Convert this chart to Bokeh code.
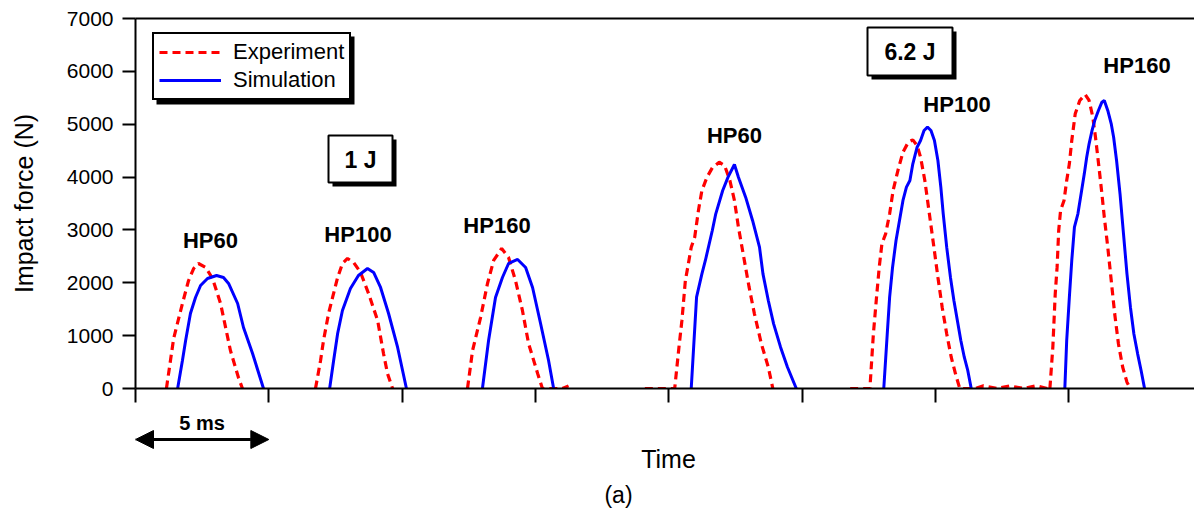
from bokeh.plotting import figure
from bokeh.layouts import column
from bokeh.models import (Range1d, LinearAxis, FixedTicker, Label, Legend, LegendItem,
                          BoxAnnotation, Arrow, NormalHead, CustomLabelingPolicy)
from bokeh.embed import file_html
from bokeh.resources import INLINE

# ---------------- data (time in ms, force in N) ----------------
# Experiment (red dashed), one list per impact
exp_t_hp60_1j = [1.16, 1.43, 1.76, 1.99, 2.18, 2.36, 2.63, 2.89, 3.19, 3.56, 3.86, 4.01]
exp_f_hp60_1j = [0, 946, 1608, 2043, 2270, 2365, 2289, 2081, 1608, 719, 208, 0]
exp_t_hp100_1j = [6.75, 6.94, 7.05, 7.24, 7.39, 7.58, 7.76, 7.95, 8.18, 8.44, 8.74, 9.08, 9.30, 9.45, 9.64]
exp_f_hp100_1j = [0, 530, 908, 1419, 1722, 2100, 2365, 2460, 2384, 2195, 1797, 1287, 662, 284, 0]
exp_t_hp160_1j = [12.45, 12.64, 12.94, 13.20, 13.43, 13.73, 13.99, 14.25, 14.51, 14.74, 15.08, 15.26, 16.0, 16.24]
exp_f_hp160_1j = [0, 719, 1343, 1987, 2422, 2649, 2479, 2043, 1476, 851, 284, 0, 0, 50]
exp_t_hp60_6j = [19.10, 20.22, 20.38, 20.49, 20.62, 20.71, 20.84, 20.97, 21.11, 21.24, 21.43, 21.63, 21.89,
                 22.09, 22.29, 22.46, 22.61, 22.81, 23.01, 23.21, 23.47, 23.73, 23.90]
exp_f_hp60_6j = [0, 0, 782, 1287, 2043, 2295, 2674, 2863, 3368, 3746, 3998, 4175, 4282,
                 4219, 3935, 3557, 3052, 2484, 1917, 1413, 846, 403, 0]
exp_t_hp100_6j = [26.80, 27.54, 27.67, 27.80, 27.89, 27.99, 28.13, 28.28, 28.41, 28.59, 28.78, 28.98, 29.15,
                  29.31, 29.44, 29.60, 29.77, 29.94, 30.09, 30.25, 30.42, 30.59, 30.75, 30.91,
                  31.50, 31.80, 32.30, 32.78, 33.30, 33.77, 34.20]
exp_f_hp100_6j = [0, 0, 1030, 1792, 2295, 2737, 2926, 3305, 3746, 4124, 4471, 4660, 4704,
                  4597, 4376, 3935, 3305, 2674, 2106, 1538, 1035, 592, 278, 0,
                  0, 50, 0, 50, 0, 50, 0]
exp_t_hp160_6j = [34.29, 34.40, 34.49, 34.56, 34.62, 34.69, 34.82, 34.92, 35.02, 35.11, 35.24, 35.41, 35.61,
                  35.76, 35.90, 36.00, 36.13, 36.24, 36.33, 36.46, 36.59, 36.72, 36.86, 37.02, 37.18, 37.31]
exp_f_hp160_6j = [0, 782, 1792, 2295, 2989, 3368, 3557, 3935, 4251, 4692, 5197, 5449, 5562,
                  5449, 5133, 4754, 4187, 3683, 3241, 2674, 2043, 1413, 846, 403, 120, 0]

# Simulation (blue solid), one list per impact
sim_t_hp60_1j = [1.58, 1.76, 1.88, 2.06, 2.25, 2.44, 2.70, 3.04, 3.30, 3.49, 3.83, 4.05, 4.39, 4.80]
sim_f_hp60_1j = [0, 530, 908, 1419, 1722, 1949, 2081, 2138, 2100, 1987, 1608, 1154, 662, 0]
sim_t_hp100_1j = [7.28, 7.43, 7.58, 7.76, 8.06, 8.36, 8.70, 8.93, 9.19, 9.49, 9.83, 10.16]
sim_f_hp100_1j = [0, 530, 1041, 1476, 1892, 2138, 2270, 2195, 1911, 1419, 776, 0]
sim_t_hp160_1j = [13.01, 13.24, 13.50, 13.76, 13.99, 14.33, 14.63, 14.89, 15.19, 15.49, 15.68]
sim_f_hp160_1j = [0, 908, 1722, 2100, 2365, 2441, 2289, 1911, 1230, 530, 0]
sim_t_hp60_6j = [20.84, 21.04, 21.24, 21.37, 21.63, 21.76, 22.02, 22.22, 22.46, 22.61, 22.88, 23.14,
                 23.40, 23.53, 23.73, 23.93, 24.19, 24.45, 24.78]
sim_f_hp60_6j = [0, 1728, 2169, 2422, 2989, 3305, 3746, 3998, 4238, 3998, 3620, 3179,
                 2674, 2169, 1665, 1224, 782, 403, 0]
sim_t_hp100_6j = [28.06, 28.19, 28.28, 28.39, 28.52, 28.65, 28.78, 28.91, 29.04, 29.15, 29.31, 29.44, 29.57,
                  29.70, 29.83, 29.96, 30.09, 30.20, 30.29, 30.42, 30.56, 30.69, 30.82, 30.95, 31.08, 31.21, 31.34]
sim_f_hp100_6j = [0, 1030, 1728, 2295, 2800, 3179, 3557, 3809, 3935, 4251, 4565, 4692, 4881,
                  4944, 4881, 4692, 4314, 3809, 3305, 2674, 2106, 1665, 1287, 908, 592, 341, 0]
sim_t_hp160_6j = [34.85, 34.92, 35.02, 35.11, 35.21, 35.34, 35.48, 35.58, 35.67, 35.76, 35.87, 35.97, 36.11,
                  36.24, 36.33, 36.46, 36.59, 36.68, 36.79, 36.92, 37.05, 37.18, 37.31, 37.44, 37.58, 37.71, 37.84]
sim_f_hp160_6j = [0, 908, 1728, 2422, 3052, 3305, 3746, 4061, 4376, 4629, 4881, 5070, 5260,
                  5417, 5449, 5260, 5008, 4754, 4314, 3683, 2926, 2169, 1538, 1030, 656, 341, 0]

y_ticks = [0, 1000, 2000, 3000, 4000, 5000, 6000, 7000]
x_ticks = [0, 5, 10, 15, 20, 25, 30, 35]
pulse_labels = ["HP60", "HP100", "HP160", "HP60", "HP100", "HP160"]
energy_labels = ["1 J", "6.2 J"]
scale_label = "5 ms"

exp_t = [exp_t_hp60_1j, exp_t_hp100_1j, exp_t_hp160_1j, exp_t_hp60_6j, exp_t_hp100_6j, exp_t_hp160_6j]
exp_f = [exp_f_hp60_1j, exp_f_hp100_1j, exp_f_hp160_1j, exp_f_hp60_6j, exp_f_hp100_6j, exp_f_hp160_6j]
sim_t = [sim_t_hp60_1j, sim_t_hp100_1j, sim_t_hp160_1j, sim_t_hp60_6j, sim_t_hp100_6j, sim_t_hp160_6j]
sim_f = [sim_f_hp60_1j, sim_f_hp100_1j, sim_f_hp160_1j, sim_f_hp60_6j, sim_f_hp100_6j, sim_f_hp160_6j]

# ---------------- layout helpers (pixel -> data for annotations) ----------------
W, H = 1194, 512
LEFT, TOP, BOTTOM = 135, 18, 388
MAIN_H = 408            # main figure height (frame bottom at 388)
SUB_H = H - MAIN_H      # lower strip with scale arrow and captions
X_MAX = (W - LEFT) / (400.0 / 15.0)   # 5 ms per 133.3 px


def xd(px):
    return (px - LEFT) / (400.0 / 15.0)


def yd(py):
    return (BOTTOM - py) * 7000.0 / (BOTTOM - TOP)


def ys(py):   # page y -> lower strip y
    return H - py


FONT = "Liberation Sans"

p = figure(width=W, height=MAIN_H, output_backend="svg", toolbar_location=None,
           x_range=Range1d(0, X_MAX), y_range=Range1d(0, 7000),
           min_border_left=LEFT, min_border_right=0, min_border_top=TOP,
           min_border_bottom=MAIN_H - BOTTOM)
p.outline_line_color = None
p.xgrid.visible = False
p.ygrid.visible = False
p.background_fill_color = "white"
p.border_fill_color = "white"

# y axis
p.yaxis.ticker = FixedTicker(ticks=y_ticks)
p.yaxis.minor_tick_line_color = None
p.yaxis.major_tick_out = 13
p.yaxis.major_tick_in = 0
p.yaxis.major_tick_line_width = 2
p.yaxis.axis_line_width = 2
p.yaxis.major_label_text_font = FONT
p.yaxis.major_label_text_font_size = "21px"
p.yaxis.major_label_text_color = "black"
p.yaxis.major_label_standoff = 9
p.yaxis.axis_label = "Impact force (N)"
p.yaxis.axis_label_text_font = FONT
p.yaxis.axis_label_text_font_size = "25px"
p.yaxis.axis_label_text_font_style = "normal"
p.yaxis.axis_label_text_color = "black"
p.yaxis.axis_label_standoff = 26

# x axis (ticks only)
p.xaxis.ticker = FixedTicker(ticks=x_ticks)
p.xaxis.minor_tick_line_color = None
p.xaxis.major_tick_out = 14
p.xaxis.major_tick_in = 0
p.xaxis.major_tick_line_width = 2
p.xaxis.axis_line_width = 2
p.xaxis.major_label_text_font_size = "0px"
p.xaxis.major_label_standoff = 0
p.xaxis.major_label_policy = CustomLabelingPolicy(code="return []")

# top frame line
top_axis = LinearAxis(ticker=FixedTicker(ticks=[]), axis_line_width=2,
                      major_tick_line_color=None, minor_tick_line_color=None)
p.add_layout(top_axis, "above")

# ---------------- curves ----------------
exp_r = p.multi_line(exp_t, exp_f, line_color="#ff0000", line_width=3.2, line_dash="8 5")
sim_r = p.multi_line(sim_t, sim_f, line_color="#0000ff", line_width=3)

# legend with shadow
p.add_layout(BoxAnnotation(left=xd(156), right=xd(354), top=yd(36), bottom=yd(104),
                           fill_color="black", fill_alpha=1, line_color=None))
legend = Legend(items=[LegendItem(label="Experiment", renderers=[exp_r]),
                       LegendItem(label="Simulation", renderers=[sim_r])],
                location=(17, BOTTOM - 100), margin=0, padding=5, spacing=2,
                glyph_width=62, glyph_height=24, label_height=24, label_standoff=12,
                label_text_font=FONT, label_text_font_size="22px", label_text_color="black",
                border_line_color="black", border_line_width=2, border_line_alpha=1,
                background_fill_color="white", background_fill_alpha=1)
p.add_layout(legend)

# energy boxes with shadows
boxes = [(328, 392, 135, 182, 360, 159), (867, 952, 27, 75, 909.5, 51)]
for (l, r, t, b, cx, cy), txt in zip(boxes, energy_labels):
    p.add_layout(BoxAnnotation(left=xd(l + 4), right=xd(r + 4), top=yd(t + 4), bottom=yd(b + 4),
                               fill_color="black", fill_alpha=1, line_color=None))
    p.add_layout(BoxAnnotation(left=xd(l), right=xd(r), top=yd(t), bottom=yd(b),
                               fill_color="white", fill_alpha=1, line_color="black",
                               line_alpha=1, line_width=2))
    p.add_layout(Label(x=xd(cx), y=yd(cy), text=txt, text_align="center", text_baseline="middle",
                       text_font=FONT, text_font_size="23px", text_font_style="bold",
                       text_color="black"))

# pulse labels
label_pos = [(210, 240), (357.5, 234), (496.5, 225), (734, 135), (956.5, 104), (1136.5, 65)]
for (lx, ly), txt in zip(label_pos, pulse_labels):
    p.add_layout(Label(x=xd(lx), y=yd(ly), text=txt, text_align="center", text_baseline="middle",
                       text_font=FONT, text_font_size="22px", text_font_style="bold",
                       text_color="black"))

# ---------------- lower strip: scale arrow, axis title, caption ----------------
q = figure(width=W, height=SUB_H, output_backend="svg", toolbar_location=None,
           x_range=p.x_range, y_range=Range1d(0, SUB_H),
           x_axis_type=None, y_axis_type=None,
           min_border_left=LEFT, min_border_right=0, min_border_top=0, min_border_bottom=0)
q.outline_line_color = None
q.background_fill_color = "white"
q.border_fill_color = "white"

q.add_layout(Arrow(start=NormalHead(size=18, fill_color="black", line_color="black"),
                   end=NormalHead(size=18, fill_color="black", line_color="black"),
                   x_start=x_ticks[0], x_end=x_ticks[1], y_start=ys(439), y_end=ys(439),
                   line_width=3, line_color="black"))
q.add_layout(Label(x=(x_ticks[0] + x_ticks[1]) / 2, y=ys(422), text=scale_label,
                   text_align="center", text_baseline="middle", text_color="black",
                   text_font=FONT, text_font_size="20px", text_font_style="bold"))
q.add_layout(Label(x=xd(668), y=ys(458), text="Time", text_align="center", text_baseline="middle",
                   text_font=FONT, text_font_size="25px", text_color="black"))
q.add_layout(Label(x=xd(618), y=ys(494), text="(a)", text_align="center", text_baseline="middle",
                   text_font=FONT, text_font_size="23px", text_color="black"))

layout = column(p, q, spacing=0)
open("out.html", "w").write(file_html(layout, INLINE))
